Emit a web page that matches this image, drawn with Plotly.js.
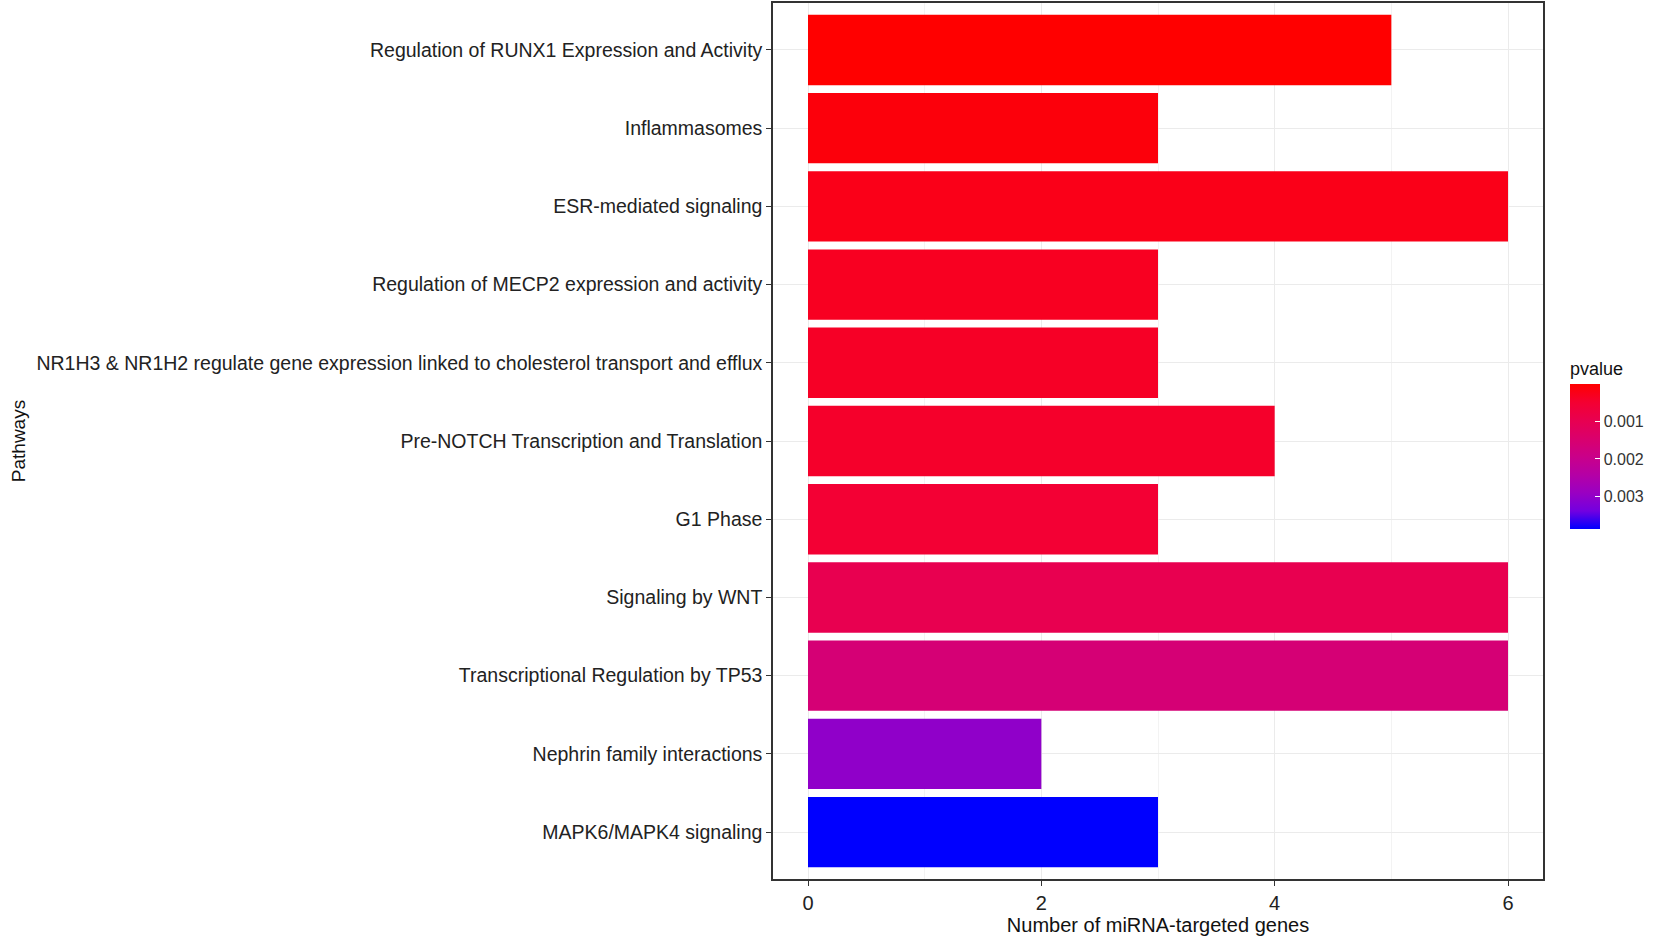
<!DOCTYPE html>
<html>
<head>
<meta charset="utf-8">
<script src="https://cdn.plot.ly/plotly-3.0.1.min.js"></script>
<style>
  html, body { margin: 0; padding: 0; background: #fff; }
  #plotarea { width: 1654px; height: 936px; }
</style>
</head>
<body>
<div id="plotarea"></div>
<script>
// pathways, top of chart first
let pathways = [
    'Regulation of RUNX1 Expression and Activity',
    'Inflammasomes',
    'ESR-mediated signaling',
    'Regulation of MECP2 expression and activity',
    'NR1H3 & NR1H2 regulate gene expression linked to cholesterol transport and efflux',
    'Pre-NOTCH Transcription and Translation',
    'G1 Phase',
    'Signaling by WNT',
    'Transcriptional Regulation by TP53',
    'Nephrin family interactions',
    'MAPK6/MAPK4 signaling'
];
let geneCount = [5, 3, 6, 3, 3, 4, 3, 6, 6, 2, 3];
let pvalue = [0.00001, 0.00012, 0.00024, 0.00033, 0.00038, 0.00043, 0.00054, 0.00097, 0.0016, 0.0030, 0.00384];
let pTicks = [0.001, 0.002, 0.003];

// blue -> red, steps picked to look like ggplot's Lab gradient
// (colour is driven by -pvalue so the bar reads low p at the top)
let fillScale = [
    [0, 'rgb(0,0,255)'],
    [0.125, 'rgb(115,0,224)'],
    [0.25, 'rgb(154,0,194)'],
    [0.375, 'rgb(181,0,165)'],
    [0.5, 'rgb(202,0,137)'],
    [0.625, 'rgb(218,0,108)'],
    [0.75, 'rgb(232,0,80)'],
    [0.875, 'rgb(244,0,49)'],
    [1, 'rgb(255,0,0)']
];

let font = '"Liberation Sans", Arial, sans-serif';
let negP = pvalue.map(p => -p);

let trace1 = {
    type: 'bar',
    orientation: 'h',
    x: geneCount,
    y: pathways,
    width: 0.9,
    customdata: pvalue,
    marker: {
        color: negP,
        colorscale: fillScale,
        cmin: Math.min(...negP),
        cmax: Math.max(...negP),
        line: {width: 0},
        colorbar: {
            title: {text: 'pvalue', side: 'top', font: {family: font, size: 18, color: '#111'}},
            tickvals: pTicks.map(v => -v),
            ticktext: pTicks.map(v => v.toFixed(3)),
            ticks: 'inside',
            ticklen: 5,
            tickcolor: '#fff',
            tickwidth: 1,
            tickfont: {family: font, size: 16, color: '#333'},
            thickness: 30,
            thicknessmode: 'pixels',
            len: 170,
            lenmode: 'pixels',
            x: 1.035,
            xanchor: 'left',
            xpad: 0,
            y: 0.497,
            yanchor: 'middle',
            ypad: 0,
            outlinewidth: 0
        }
    },
    hovertemplate: '%{y}<br>%{x} genes<br>p = %{customdata}<extra></extra>'
};

let layout = {
    width: 1654,
    height: 936,
    margin: {l: 773, r: 111, t: 3, b: 57},
    paper_bgcolor: '#fff',
    plot_bgcolor: '#fff',
    showlegend: false,
    font: {family: font, color: '#111'},
    xaxis: {
        range: [-0.3, 6.3],
        tickvals: [0, 2, 4, 6],
        ticks: 'outside',
        ticklen: 5,
        tickcolor: '#333',
        tickfont: {family: font, size: 20, color: '#222'},
        showgrid: true,
        gridcolor: '#ebebeb',
        gridwidth: 1.2,
        minor: {tickvals: [1, 3, 5], showgrid: true, gridcolor: '#f3f3f3', gridwidth: 1},
        zeroline: false,
        showline: true,
        mirror: true,
        linecolor: '#333',
        linewidth: 1.5,
        title: {text: 'Number of miRNA-targeted genes', font: {family: font, size: 20, color: '#111'}, standoff: 4}
    },
    yaxis: {
        type: 'category',
        categoryorder: 'array',
        categoryarray: pathways.slice().reverse(),
        range: [-0.6, pathways.length - 0.4],
        ticks: 'outside',
        ticklen: 5,
        tickcolor: '#333',
        tickfont: {family: font, size: 19.5, color: '#222'},
        showgrid: true,
        gridcolor: '#ebebeb',
        gridwidth: 1.2,
        zeroline: false,
        showline: true,
        mirror: true,
        linecolor: '#333',
        linewidth: 1.5,
        title: {text: 'Pathways', font: {family: font, size: 19, color: '#111'}, standoff: 6}
    }
};

Plotly.newPlot('plotarea', [trace1], layout, {displaylogo: false, displayModeBar: false});
</script>
</body>
</html>
